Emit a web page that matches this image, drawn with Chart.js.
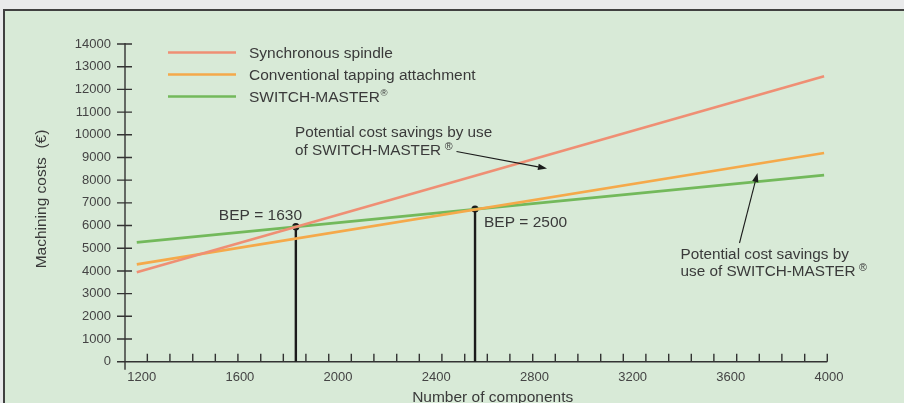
<!DOCTYPE html>
<html><head><meta charset="utf-8">
<script src="https://cdn.jsdelivr.net/npm/chart.js@4/dist/chart.umd.min.js"></script>
<style>
html,body{margin:0;padding:0;width:904px;height:403px;overflow:hidden;background:#e9eaeb;}
#box{position:absolute;left:3px;top:9px;width:930px;height:430px;background:#d8ead7;border-left:2px solid #404040;border-top:2px solid #404040;}
#wrap{position:absolute;left:0;top:0;width:904px;height:403px;}
</style></head><body>
<div id="box"></div>
<div id="wrap"><canvas id="c"></canvas></div>
<script>
// ---- data ----
const xPoints = [1180, 3980];
const synchronousSpindle = [3940, 12580];
const conventionalTapping = [4290, 9200];
const switchMaster = [5260, 8220];
const bepX = [1828, 2558];
const bepY = [5950, 6730];
const bepLabels = ['BEP = 1630', 'BEP = 2500'];
const xTickLabels = [1200, 1600, 2000, 2400, 2800, 3200, 3600, 4000];
const yTickValues = [0,1000,2000,3000,4000,5000,6000,7000,8000,9000,10000,11000,12000,13000,14000];
const minorXTicks = [1223,1315,1408,1500,1592,1685,1777,1869,1962,2054,2146,2239,2331,2423,2516,2608,2700,2793,2885,2977,3070,3162,3254,3347,3439,3531,3624,3716,3808,3901,3993];
const seriesNames = ['Synchronous spindle', 'Conventional tapping attachment', 'SWITCH-MASTER'];
const seriesColors = ['#ef8f74', '#f5a94a', '#73b95b'];
const yTitle = 'Machining costs  (€)';
const xTitle = 'Number of components';

const FONT = "'Liberation Sans', Arial, sans-serif";
const TXT = '#3a3a3a';

function pts(xs, ys){ return xs.map((x,i)=>({x:x, y:ys[i]})); }

const datasets = [
  {data: pts(xPoints, synchronousSpindle), borderColor: seriesColors[0]},
  {data: pts(xPoints, conventionalTapping), borderColor: seriesColors[1]},
  {data: pts(xPoints, switchMaster), borderColor: seriesColors[2]}
].map(d => Object.assign(d, {showLine:true, borderWidth:2.6, pointRadius:0, fill:false}));

bepX.forEach((bx,i)=>{
  datasets.push({data:[{x:bx,y:0},{x:bx,y:bepY[i]}], showLine:true, borderColor:'#1b1b1b',
    borderWidth:2.4, pointRadius:[0,3.6], pointBackgroundColor:'#1b1b1b', pointBorderWidth:0});
});

function regText(ctx, text, x, y, size, gap, rs, raise){
  ctx.font = size + 'px ' + FONT;
  ctx.fillText(text, x, y);
  const w = ctx.measureText(text).width;
  ctx.font = (size*rs) + 'px ' + FONT;
  ctx.fillText('®', x + w + gap, y - size*raise);
}

function arrow(ctx, x1, y1, x2, y2){
  ctx.save();
  ctx.strokeStyle = '#1b1b1b'; ctx.fillStyle = '#1b1b1b'; ctx.lineWidth = 1.1;
  const a = Math.atan2(y2-y1, x2-x1), L = 9, W = 3.2;
  const bx = x2 - L*Math.cos(a), by = y2 - L*Math.sin(a);
  ctx.beginPath(); ctx.moveTo(x1,y1); ctx.lineTo(bx,by); ctx.stroke();
  ctx.beginPath();
  ctx.moveTo(x2,y2);
  ctx.lineTo(bx + W*Math.sin(a), by - W*Math.cos(a));
  ctx.lineTo(bx - W*Math.sin(a), by + W*Math.cos(a));
  ctx.closePath(); ctx.fill();
  ctx.restore();
}

const axesPlugin = {
  id: 'axesPlugin',
  beforeDatasetsDraw(chart){
    const {ctx, chartArea} = chart;
    const xs = chart.scales.x, ys = chart.scales.y;
    const left = chartArea.left, y0 = ys.getPixelForValue(0);
    ctx.save();
    ctx.strokeStyle = '#333'; ctx.lineWidth = 1.4;
    ctx.beginPath();
    ctx.moveTo(left, ys.getPixelForValue(14000) - 1); ctx.lineTo(left, y0 + 8);
    ctx.moveTo(left - 8, y0); ctx.lineTo(xs.getPixelForValue(minorXTicks[minorXTicks.length-1]), y0);
    yTickValues.forEach(v => { const p = ys.getPixelForValue(v); ctx.moveTo(left-8, p); ctx.lineTo(left+7, p); });
    minorXTicks.forEach(v => { const p = xs.getPixelForValue(v); ctx.moveTo(p, y0-8); ctx.lineTo(p, y0); });
    ctx.stroke();
    ctx.restore();
  },
  afterDraw(chart){
    const {ctx} = chart;
    const xs = chart.scales.x, ys = chart.scales.y;
    ctx.save();
    ctx.fillStyle = TXT; ctx.textBaseline = 'alphabetic'; ctx.textAlign = 'left';
    // legend
    seriesNames.forEach((n,i)=>{
      const yy = 52.5 + i*22;
      ctx.strokeStyle = seriesColors[i]; ctx.lineWidth = 2.6;
      ctx.beginPath(); ctx.moveTo(168, yy); ctx.lineTo(236, yy); ctx.stroke();
      if (i === 2) regText(ctx, n, 249, yy + 5.2, 15.5, 0.5, 0.62, 0.36);
      else { ctx.font = '15.5px ' + FONT; ctx.fillText(n, 249, yy + 5.2); }
    });
    // BEP labels
    ctx.font = '15.5px ' + FONT;
    const p1x = xs.getPixelForValue(bepX[0]), p1y = ys.getPixelForValue(bepY[0]);
    const p2x = xs.getPixelForValue(bepX[1]), p2y = ys.getPixelForValue(bepY[1]);
    ctx.fillText(bepLabels[0], p1x - 77, p1y - 6.5);
    ctx.fillText(bepLabels[1], p2x + 9, p2y + 18.3);
    // annotations
    ctx.font = '15.3px ' + FONT;
    ctx.fillText('Potential cost savings by use', 295, 137);
    regText(ctx, 'of SWITCH-MASTER', 295, 155, 15.3, 3.5, 0.7, 0.3);
    arrow(ctx, 456.5, 151.5, 547, 168.5);
    ctx.font = '15.3px ' + FONT;
    ctx.fillText('Potential cost savings by', 680.5, 258.5);
    regText(ctx, 'use of SWITCH-MASTER', 680.5, 276, 15.3, 3.5, 0.7, 0.3);
    arrow(ctx, 739.5, 243, 757.5, 173);
    // axis titles
    ctx.font = '15.5px ' + FONT;
    ctx.textAlign = 'center';
    ctx.fillText(xTitle, 492.7, 402.2);
    ctx.translate(45.5, 199); ctx.rotate(-Math.PI/2);
    ctx.fillText(yTitle, 0, 0);
    ctx.restore();
  }
};

new Chart(document.getElementById('c'), {
  type: 'scatter',
  data: {datasets},
  options: {
    responsive: true, maintainAspectRatio: false, animation: false,
    layout: {padding: {top: 44, right: 75, left: 0, bottom: 0}},
    plugins: {legend: {display: false}, tooltip: {enabled: false}},
    scales: {
      x: {
        type: 'linear', min: 1132, max: 4000,
        afterBuildTicks: s => { s.ticks = xTickLabels.map(v => ({value: v})); },
        afterFit: s => { s.height = 41.3; },
        grid: {display: false, drawTicks: false}, border: {display: false},
        ticks: {font: {size: 13, family: FONT}, color: '#444', padding: 8, maxRotation: 0, autoSkip: false,
          callback: v => String(v)}
      },
      y: {
        min: 0, max: 14000,
        afterBuildTicks: s => { s.ticks = yTickValues.map(v => ({value: v})); },
        afterFit: s => { s.width = 125; },
        grid: {display: false, drawTicks: false}, border: {display: false},
        ticks: {font: {size: 13, family: FONT}, color: '#444', padding: 14, autoSkip: false,
          callback: v => String(v)}
      }
    }
  },
  plugins: [axesPlugin]
});
</script>
</body></html>
